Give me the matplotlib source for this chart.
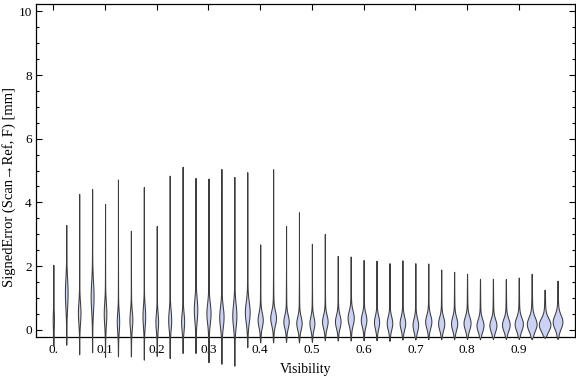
import numpy as np
import matplotlib
matplotlib.use("Agg")
import matplotlib.pyplot as plt
from matplotlib.ticker import MultipleLocator, FuncFormatter

plt.rcParams['font.family'] = ['Liberation Serif', 'DejaVu Serif']

EDGE = "#3c3c3c"
FILL = "#cbd2f5"

# visibility bins (category positions)
vis = [0.000, 0.025, 0.050, 0.075, 0.100, 0.125, 0.150, 0.175, 0.200, 0.225,
       0.250, 0.275, 0.300, 0.325, 0.350, 0.375, 0.400, 0.425, 0.450, 0.475,
       0.500, 0.525, 0.550, 0.575, 0.600, 0.625, 0.650, 0.675, 0.700, 0.725,
       0.750, 0.775, 0.800, 0.825, 0.850, 0.875, 0.900, 0.925, 0.950, 0.975]

# upper / lower tail of each distribution [mm]
err_max = [2.04, 3.29, 4.27, 4.42, 3.95, 4.72, 3.11, 4.48, 3.26, 4.84,
           5.12, 4.77, 4.75, 5.05, 4.80, 4.95, 2.68, 5.04, 3.26, 3.69,
           2.70, 3.01, 2.32, 2.30, 2.19, 2.17, 2.09, 2.18, 2.09, 2.08,
           1.89, 1.82, 1.76, 1.60, 1.60, 1.59, 1.64, 1.76, 1.26, 1.54]
err_min = [-0.50, -0.47, -0.77, -0.71, -0.86, -0.84, -0.84, -0.94, -0.82, -0.89,
           -0.73, -0.73, -1.02, -1.07, -1.13, -0.55, -0.40, -0.40, -0.38, -0.40,
           -0.38, -0.33, -0.34, -0.34, -0.33, -0.33, -0.35, -0.31, -0.31, -0.30,
           -0.30, -0.30, -0.29, -0.30, -0.29, -0.29, -0.29, -0.30, -0.26, -0.29]
# mode of each distribution [mm]
err_mode = [0.30, 1.15, 0.53, 1.05, 0.50, 0.25, 0.31, 0.42, 0.25, 0.31,
            0.25, 0.63, 0.52, 0.40, 0.45, 0.55, 0.31, 0.37, 0.26, 0.21,
            0.21, 0.26, 0.26, 0.37, 0.31, 0.24, 0.21, 0.21, 0.15, 0.26,
            0.20, 0.20, 0.21, 0.14, 0.14, 0.16, 0.18, 0.18, 0.16, 0.25]
# density peak (half width, in axis units) and spread [mm]
peak = [0.0012, 0.0026, 0.0025, 0.0028, 0.0025, 0.0023, 0.0028, 0.0026, 0.0026, 0.0029,
        0.0029, 0.0034, 0.0040, 0.0042, 0.0040, 0.0046, 0.0050, 0.0056, 0.0052, 0.0052,
        0.0048, 0.0054, 0.0054, 0.0060, 0.0054, 0.0050, 0.0054, 0.0054, 0.0054, 0.0060,
        0.0060, 0.0060, 0.0068, 0.0068, 0.0068, 0.0074, 0.0080, 0.0094, 0.0112, 0.0094]
spread = [0.30, 0.45, 0.32, 0.45, 0.35, 0.30, 0.28, 0.32, 0.28, 0.30,
          0.28, 0.35, 0.32, 0.32, 0.35, 0.32, 0.22, 0.22, 0.20, 0.20,
          0.20, 0.20, 0.20, 0.22, 0.20, 0.20, 0.20, 0.20, 0.20, 0.20,
          0.20, 0.20, 0.20, 0.19, 0.19, 0.19, 0.20, 0.21, 0.20, 0.21]

fig = plt.figure(figsize=(5.76, 3.77), dpi=100)
ax = fig.add_axes([0.0625, 0.106, 0.936, 0.884])

for x, lo, hi, c, w, s in zip(vis, err_min, err_max, err_mode, peak, spread):
    y = np.linspace(lo, hi, 400)
    z = (y - c) / s
    half = w * (0.88 * np.exp(-0.5 * z**2) + 0.12 * np.exp(-0.5 * (z / 4.0)**2))
    half *= np.clip((y - lo) / 0.08, 0, 1) * np.clip((hi - y) / 0.08, 0, 1)
    ax.fill_betweenx(y, x - half, x + half, facecolor=FILL, edgecolor=EDGE,
                     linewidth=0.75, clip_on=False, zorder=3)

ax.set_xlim(-0.0335, 1.009)
ax.set_ylim(-0.23, 10.24)

ax.yaxis.set_major_locator(MultipleLocator(2))
ax.yaxis.set_minor_locator(MultipleLocator(0.5))
ax.set_xticks([0.0, 0.1, 0.2, 0.3, 0.4, 0.5, 0.6, 0.7, 0.8, 0.9])
ax.xaxis.set_major_formatter(FuncFormatter(lambda v, p: "0." if abs(v) < 1e-9 else f"{v:.1f}"))
ax.tick_params(which='both', direction='in', top=True, right=True, labelsize=9.5,
               colors='black', width=0.8)
ax.tick_params(which='major', length=4.5)
ax.tick_params(axis='x', which='major', pad=5)
ax.tick_params(axis='y', which='major', pad=3)
ax.tick_params(which='minor', length=2.5)
ax.tick_params(axis='x', which='minor', bottom=False, top=False)
for sp in ax.spines.values():
    sp.set_linewidth(0.9)

ax.set_xlabel("Visibility", fontsize=10, labelpad=5)
fig.text(0.016, 0.504, "SignedError (Scan\u2192Ref, F) [mm]", rotation=90,
         ha='center', va='center', fontsize=10.5)

fig.savefig("out.png", dpi=100)
